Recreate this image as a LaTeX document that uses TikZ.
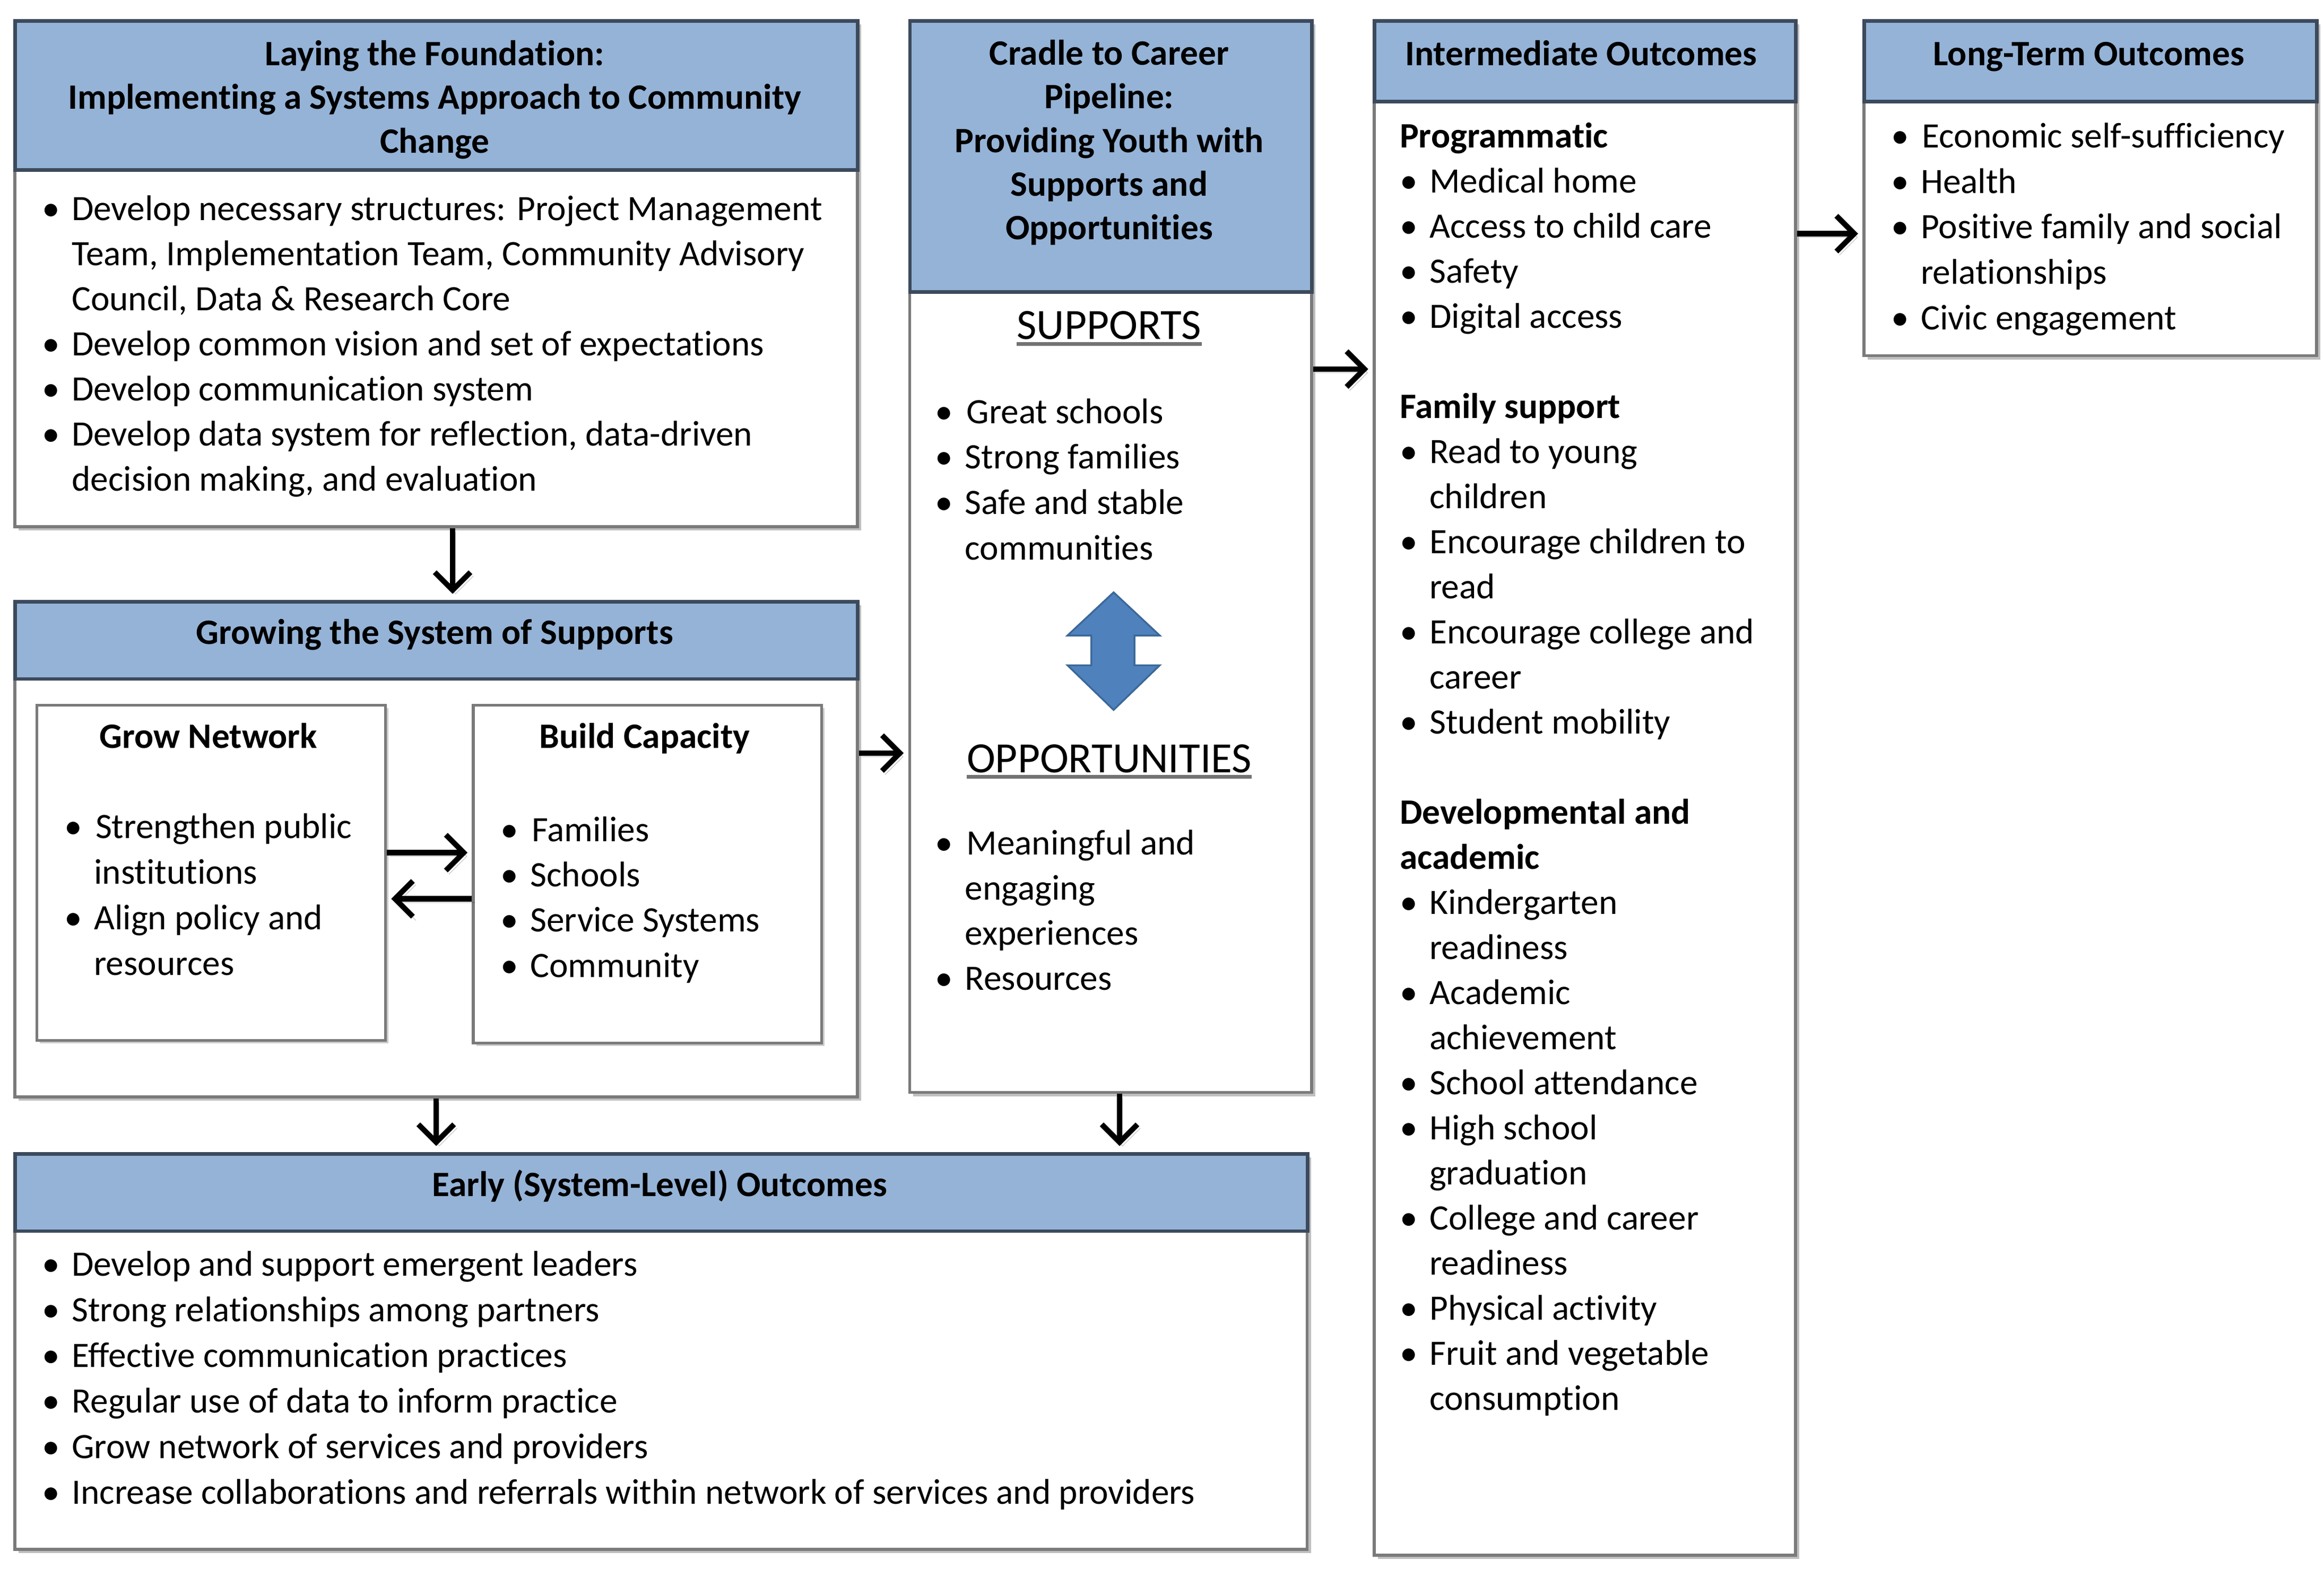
\documentclass[tikz,border=0pt]{standalone}
\usepackage{fontspec}
\setmainfont{Carlito}[Ligatures=NoCommon]
\usetikzlibrary{arrows.meta,shadows}
\definecolor{hdrblue}{HTML}{95B3D7}
\definecolor{hdrline}{HTML}{3C4A5C}
\definecolor{boxline}{HTML}{7A7A7A}
\definecolor{dblfill}{HTML}{4F81BD}
\definecolor{dblline}{HTML}{3B6898}
\newlength{\bind}\setlength{\bind}{20pt}
\newlength{\bpre}\setlength{\bpre}{0pt}
\newcommand{\bitem}[1]{\strut\makebox[\bind][l]{\hspace*{\bpre}\textbullet}#1}
\newcommand{\bcont}[1]{\strut\hspace*{\bind}#1}
\begin{document}
\begin{tikzpicture}[x=1pt,y=-1pt,
  frame/.style={draw=boxline, line width=2pt, fill=white, rectangle, inner sep=0pt, anchor=north west,
     drop shadow={shadow xshift=2.5pt, shadow yshift=-2.5pt, opacity=0.25, fill=black}},
  hdr/.style={draw=hdrline, line width=2.4pt, fill=hdrblue, rectangle, inner sep=0pt, anchor=north west},
  innerbox/.style={draw=boxline, line width=1.8pt, fill=white, rectangle, inner sep=0pt, anchor=north west,
     drop shadow={shadow xshift=2pt, shadow yshift=-2pt, opacity=0.2, fill=black}},
  txt/.style={inner sep=0pt, align=left, anchor=north west, font=\fontsize{24}{30.3}\selectfont},
  htxt/.style={inner sep=0pt, align=center, font=\fontsize{24}{29.3}\selectfont\bfseries},
  bigtxt/.style={inner sep=0pt, anchor=base, font=\fontsize{29}{33}\selectfont},
  underl/.style={draw=black!55, line width=2.4pt},
  arr/.style={line width=3.6pt, -{Straight Barb[length=12pt,width=24pt]},
     preaction={draw=black, opacity=0.25, transform canvas={xshift=2pt,yshift=-2.5pt}}}
]
\useasboundingbox (0,0) rectangle (1561,1054);

% ---------- Box 1: Laying the Foundation
\node[frame, minimum width=566pt, minimum height=340pt] (b1) at (9,13) {};
\node[hdr, minimum width=566pt, minimum height=100pt] (b1h) at (9,13) {};
\node[htxt] (t1h) at (292,67.5) {\strut Laying the Foundation:\\ \strut Implementing a Systems Approach to Community\\ \strut Change};
\node[txt] (t1b) at (28,126.8) {%
\bitem{Develop necessary structures: Project Management}\\
\bcont{Team, Implementation Team, Community Advisory}\\
\bcont{Council, Data \& Research Core}\\
\bitem{Develop common vision and set of expectations}\\
\bitem{Develop communication system}\\
\bitem{Develop data system for reflection, data-driven}\\
\bcont{decision making, and evaluation}};

% ---------- Box 2: Growing the System of Supports
\node[frame, minimum width=566pt, minimum height=333pt] (b2) at (9,403) {};
\node[hdr, minimum width=566pt, minimum height=52pt] (b2h) at (9,403) {};
\node[htxt] (t2h) at (292,427) {\strut Growing the System of Supports};
\node[innerbox, minimum width=234pt, minimum height=225pt] (gn) at (24,473) {};
\node[innerbox, minimum width=234pt, minimum height=227pt] (bc) at (317,473) {};
\node[htxt] (gnt) at (140,497) {\strut Grow Network};
\node[htxt] (bct) at (433,497) {\strut Build Capacity};
\node[txt, font=\fontsize{24}{30.6}\selectfont] (gnb) at (43,541.8) {%
\setlength{\bind}{21pt}%
\bitem{Strengthen public}\\
\bcont{institutions}\\
\bitem{Align policy and}\\
\bcont{resources}};
\node[txt, font=\fontsize{24}{30.4}\selectfont] (bcb) at (336,543.8) {%
\setlength{\bind}{21pt}%
\bitem{Families}\\
\bitem{Schools}\\
\bitem{Service Systems}\\
\bitem{Community}};

% ---------- Box 3: Cradle to Career Pipeline
\node[frame, minimum width=270pt, minimum height=720pt] (b3) at (610,13) {};
\node[hdr, minimum width=270pt, minimum height=182pt] (b3h) at (610,13) {};
\node[htxt] (t3h) at (745,96.5) {\strut Cradle to Career\\ \strut Pipeline:\\ \strut Providing Youth with\\ \strut Supports and\\ \strut Opportunities};
\node[bigtxt] (sup) at (745,228) {SUPPORTS};
\draw[underl] ([yshift=-3pt]sup.base west) -- ([yshift=-3pt]sup.base east);
\node[txt, font=\fontsize{24}{30.6}\selectfont] (s3b) at (628,262.8) {%
\setlength{\bind}{21pt}%
\bitem{Great schools}\\
\bitem{Strong families}\\
\bitem{Safe and stable}\\
\bcont{communities}};
\draw[fill=dblfill, draw=dblline, line width=1.2pt]
  (748,398) -- (779,427) -- (762,427) -- (762,447) -- (779,447) -- (748,477)
  -- (717,447) -- (733,447) -- (733,427) -- (717,427) -- cycle;
\node[bigtxt] (opp) at (745,519) {OPPORTUNITIES};
\draw[underl] ([yshift=-3pt]opp.base west) -- ([yshift=-3pt]opp.base east);
\node[txt] (o3b) at (628,552.8) {%
\setlength{\bind}{21pt}%
\bitem{Meaningful and}\\
\bcont{engaging}\\
\bcont{experiences}\\
\bitem{Resources}};

% ---------- Box 4: Early (System-Level) Outcomes
\node[frame, minimum width=868pt, minimum height=266pt] (b4) at (9,774) {};
\node[hdr, minimum width=868pt, minimum height=52pt] (b4h) at (9,774) {};
\node[htxt] (t4h) at (443,798) {\strut Early (System-Level) Outcomes};
\node[txt, font=\fontsize{24}{30.6}\selectfont] (t4b) at (28,835.8) {%
\bitem{Develop and support emergent leaders}\\
\bitem{Strong relationships among partners}\\
\bitem{Effective communication practices}\\
\bitem{Regular use of data to inform practice}\\
\bitem{Grow network of services and providers}\\
\bitem{Increase collaborations and referrals within network of services and providers}};

% ---------- Box 5: Intermediate Outcomes
\node[frame, minimum width=283pt, minimum height=1031pt] (b5) at (922,13) {};
\node[hdr, minimum width=283pt, minimum height=54pt] (b5h) at (922,13) {};
\node[htxt] (t5h) at (1062,38) {\strut Intermediate Outcomes};
\node[txt] (t5b) at (940,77.8) {%
\setlength{\bpre}{2pt}\setlength{\bind}{22pt}%
\strut\textbf{Programmatic}\\
\bitem{Medical home}\\
\bitem{Access to child care}\\
\bitem{Safety}\\
\bitem{Digital access}\\
\strut\\
\strut\textbf{Family support}\\
\bitem{Read to young}\\
\bcont{children}\\
\bitem{Encourage children to}\\
\bcont{read}\\
\bitem{Encourage college and}\\
\bcont{career}\\
\bitem{Student mobility}\\
\strut\\
\strut\textbf{Developmental and}\\
\strut\textbf{academic}\\
\bitem{Kindergarten}\\
\bcont{readiness}\\
\bitem{Academic}\\
\bcont{achievement}\\
\bitem{School attendance}\\
\bitem{High school}\\
\bcont{graduation}\\
\bitem{College and career}\\
\bcont{readiness}\\
\bitem{Physical activity}\\
\bitem{Fruit and vegetable}\\
\bcont{consumption}};

% ---------- Box 6: Long-Term Outcomes
\node[frame, minimum width=304pt, minimum height=225pt] (b6) at (1251,13) {};
\node[hdr, minimum width=304pt, minimum height=54pt] (b6h) at (1251,13) {};
\node[htxt] (t6h) at (1403,38) {\strut Long-Term Outcomes};
\node[txt, font=\fontsize{24}{30.5}\selectfont] (t6b) at (1270,77.8) {%
\setlength{\bind}{21pt}%
\bitem{Economic self-sufficiency}\\
\bitem{Health}\\
\bitem{Positive family and social}\\
\bcont{relationships}\\
\bitem{Civic engagement}};

% ---------- Connectors
\draw[arr] ([xshift=11pt]b1.south) -- ([xshift=11pt,yshift=4pt]b1.south |- b2.north);
\draw[arr] ([yshift=64.5pt]b2.east) -- ([yshift=64.5pt,xshift=-3pt]b2.east -| b3.west);
\draw[arr] ([yshift=13.5pt]gn.east) -- ([yshift=13.5pt,xshift=-3pt]gn.east -| bc.west);
\draw[arr] ([yshift=-16.5pt]bc.west) -- ([yshift=-16.5pt,xshift=3pt]bc.west -| gn.east);
\draw[arr] (b2.south) -- ([yshift=4pt]b2.south |- b4.north);
\draw[arr] ([xshift=6pt]b3.south) -- ([xshift=6pt,yshift=4pt]b3.south |- b4.north);
\draw[arr] ([yshift=126pt]b3.east) -- ([yshift=126pt,xshift=-3pt]b3.east -| b5.west);
\draw[arr] ([yshift=-30.5pt]b6.west -| b5.east) -- ([yshift=-30.5pt,xshift=-3pt]b6.west);
\end{tikzpicture}
\end{document}
